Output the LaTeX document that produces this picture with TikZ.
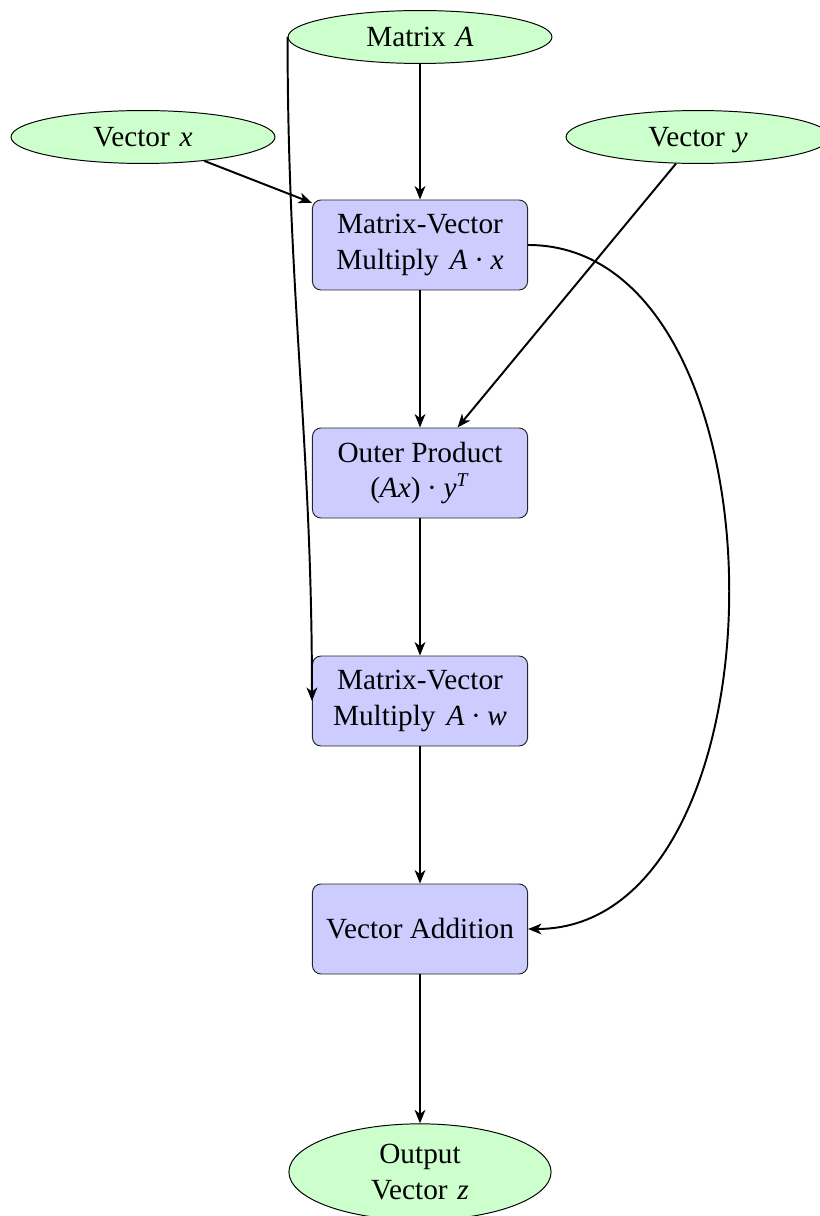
\documentclass[tikz,border=0pt]{standalone}
\usepackage{fontspec}
\setmainfont{Liberation Serif}
\usetikzlibrary{shapes.geometric,arrows.meta}
\newcommand{\mdot}{\hspace{2.7pt}·\hspace{2.7pt}}
\begin{document}
\begin{tikzpicture}[x=0.41pt,y=-0.41pt,
  font=\fontsize{12pt}{14.4pt}\selectfont,
  inbox/.style={ellipse,draw=black,fill=green!20,inner sep=1pt,text depth=0pt,
     minimum width=108.2pt,minimum height=21.7pt,align=center},
  outbox/.style={ellipse,draw=black,fill=green!20,inner sep=1pt,
     minimum width=107.5pt,minimum height=39.5pt,align=center},
  opbox/.style={rectangle,rounded corners=3.5pt,draw=black!85,fill=blue!20,
     minimum width=88.2pt,minimum height=36.9pt,align=center,inner sep=2pt},
  conn/.style={thick,-{Stealth[length=5.5pt,width=4.4pt,inset=1.6pt]}}]
\useasboundingbox (0,0) rectangle (819,1216);
\node[inbox] (mA) at (420,37) {Matrix\hspace{1pt} \textit{A}};
\node[inbox] (vx) at (143,137) {Vector\hspace{1pt} \textit{x}};
\node[inbox] (vy) at (698,137) {Vector\hspace{1pt} \textit{y}};
\node[opbox] (b1) at (420,245) {Matrix-Vector\\Multiply\hspace{1.5pt} \textit{A}\mdot\textit{x}};
\node[opbox] (b2) at (420,473) {Outer Product\\(\textit{Ax})\mdot\textit{y}\textsuperscript{\textit{T}}};
\node[opbox] (b3) at (420,701) {Matrix-Vector\\Multiply\hspace{1.5pt} \textit{A}\mdot\textit{w}};
\node[opbox] (b4) at (420,929) {Vector Addition};
\node[outbox] (out) at (420,1172) {Output\\Vector\hspace{1pt} \textit{z}};
\draw[conn] (mA) -- (b1);
\draw[conn] (vx) -- (b1);
\draw[conn] (vy) -- (b2);
\draw[conn] (b1) -- (b2);
\draw[conn] (b2) -- (b3);
\draw[conn] (b3) -- (b4);
\draw[conn] (b4) -- (out);
\draw[conn] (mA.west) to[out=-90,in=90] (b3.west);
\draw[conn] (b1.east) to[out=0,in=0] (b4.east);
\end{tikzpicture}
\end{document}
